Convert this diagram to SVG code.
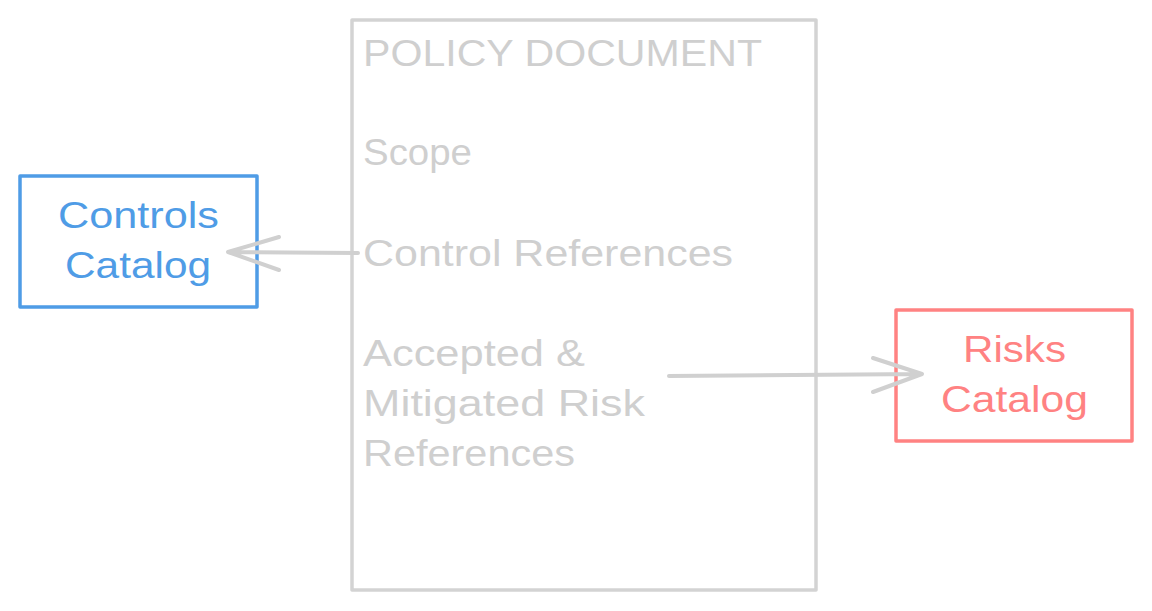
<svg xmlns="http://www.w3.org/2000/svg" width="1152" height="611" viewBox="0 0 1152 611">
<style>
.t{font-family:"Liberation Sans","Noto Sans",sans-serif;font-size:36px}
.g{fill:#cfcfcf}
.b{fill:#4f9ce6}
.r{fill:#ff8282}
.box{fill:none;stroke-width:3.5;stroke-linejoin:round;stroke-linecap:round}
.conn{fill:none;stroke:#d0d0d0;stroke-width:4;stroke-linecap:round;stroke-linejoin:round}
</style>
<rect width="1152" height="611" fill="#ffffff"/>
<g id="policy-document">
<path class="box" stroke="#d3d3d3" d="M352 20 L816 20 L816 590 L352 590 Z"/>
<text class="t g" x="363" y="66" textLength="399" lengthAdjust="spacingAndGlyphs">POLICY DOCUMENT</text>
<text class="t g" x="363" y="165" textLength="109" lengthAdjust="spacingAndGlyphs">Scope</text>
<text class="t g" x="363" y="266" textLength="370" lengthAdjust="spacingAndGlyphs">Control References</text>
<text class="t g" x="363" y="366" textLength="222" lengthAdjust="spacingAndGlyphs">Accepted &amp;</text>
<text class="t g" x="363" y="416" textLength="282" lengthAdjust="spacingAndGlyphs">Mitigated Risk</text>
<text class="t g" x="363" y="466" textLength="212" lengthAdjust="spacingAndGlyphs">References</text>
</g>
<g id="controls-catalog">
<path class="box" stroke="#4f9ce6" d="M20 176 L257 176 L257 307 L20 307 Z"/>
<text class="t b" x="58" y="228" textLength="161" lengthAdjust="spacingAndGlyphs">Controls</text>
<text class="t b" x="65" y="278" textLength="146" lengthAdjust="spacingAndGlyphs">Catalog</text>
</g>
<g id="risks-catalog">
<path class="box" stroke="#ff8282" d="M896 310 L1132 310 L1132 441 L896 441 Z"/>
<text class="t r" x="963" y="362" textLength="103" lengthAdjust="spacingAndGlyphs">Risks</text>
<text class="t r" x="941" y="412" textLength="147" lengthAdjust="spacingAndGlyphs">Catalog</text>
</g>
<g id="connectors">
<path class="conn" d="M358 253 L228 252 M279 237 L228 252 L279 270"/>
<path class="conn" d="M669 376 L922 374 M873 358 L922 374 L873 392"/>
</g>
</svg>
